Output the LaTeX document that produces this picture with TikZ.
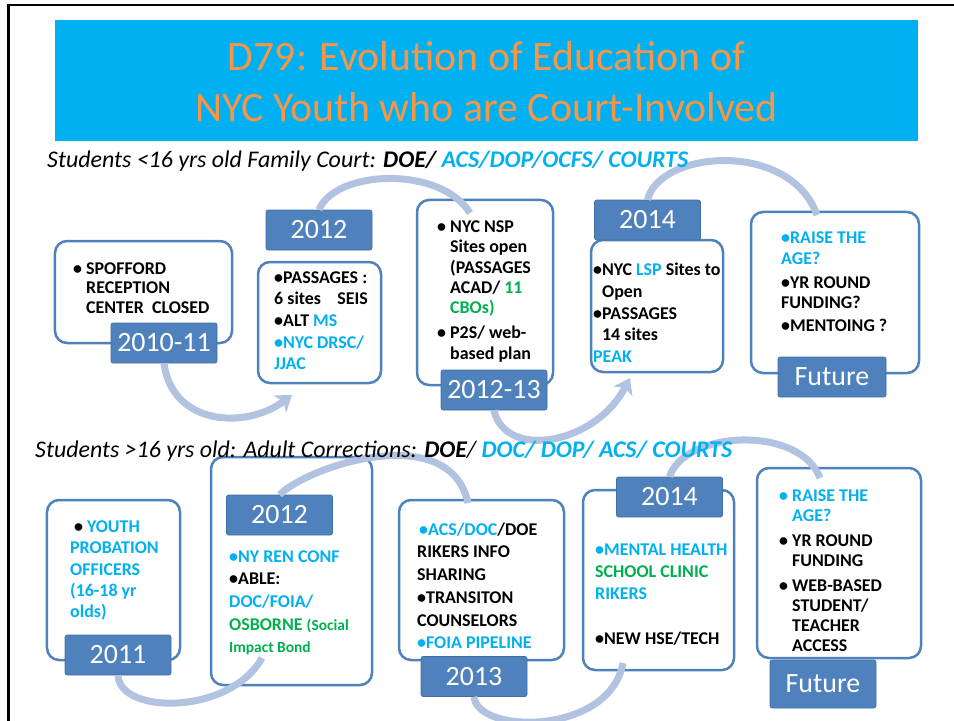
\documentclass[tikz,border=0pt]{standalone}
\usepackage{fontspec}
\setmainfont{Carlito}
\usetikzlibrary{arrows.meta}

\definecolor{boxblue}{RGB}{79,129,189}
\definecolor{arcblue}{RGB}{178,194,225}
\definecolor{titlecyan}{RGB}{0,176,240}
\definecolor{txtcyan}{RGB}{0,176,240}
\definecolor{txtgreen}{RGB}{0,176,80}
\definecolor{titleorange}{RGB}{247,150,70}

\tikzstyle{infobox} = [draw=boxblue, line width=2.5bp, fill=white, rounded corners=12bp, inner sep=0]
\tikzstyle{yearlabel} = [fill=boxblue, draw=boxblue!85!black, line width=0.6bp, rounded corners=2bp, text=white, font=\fontsize{28}{30}\selectfont, minimum width=106bp, minimum height=40bp, inner sep=0]
\tikzstyle{infotext} = [anchor=north west, align=left, inner sep=0]
\tikzstyle{subline} = [anchor=base west, inner sep=0, font=\itshape\fontsize{24}{26}\selectfont]
\tikzstyle{turn} = [draw=arcblue, line width=7bp]
\tikzstyle{turntip} = [-{Stealth[length=15bp,width=21bp,inset=4bp]}]

\newcommand{\cy}[1]{\textcolor{txtcyan}{#1}}
\newcommand{\gr}[1]{\textcolor{txtgreen}{#1}}
\newcommand{\hangbl}{\phantom{•\ }}
\newcommand{\boxfont}[1]{\bfseries\fontsize{18}{#1}\selectfont}
% first line strut: node top lies 15bp above the first baseline
\newcommand{\firstln}{\rule{0pt}{15bp}}

\begin{document}
\begin{tikzpicture}[x=1bp,y=-1bp]
	\useasboundingbox (0,0) rectangle (954,721);
	\draw[line width=2.5bp] (8.5,721) -- (8.5,5) -- (954,5);
	
	% title bar
	\node[fill=titlecyan, minimum width=863bp, minimum height=121bp, inner sep=0] (ttl) at (486.5,80.5) {};
	\node[anchor=north, align=center, inner sep=0, text=titleorange, font=\fontsize{42}{51.5}\selectfont] (ttltxt) at (486.5,30) {\rule{0pt}{40bp}D79: Evolution of Education of\\NYC Youth who are Court-Involved};
	
	% top row boxes
	\node[infobox, minimum width=177bp, minimum height=102bp] (b1) at (143.5,292) {};
	\node[infobox, minimum width=123bp, minimum height=121bp] (b2) at (319.5,322.5) {};
	\node[infobox, minimum width=136bp, minimum height=185bp] (b3) at (485,292.5) {};
	\node[infobox, minimum width=132bp, minimum height=132bp] (b4) at (657,306) {};
	\node[infobox, minimum width=168bp, minimum height=161bp] (b5) at (835,292.5) {};
	
	% bottom row boxes
	\node[infobox, minimum width=133bp, minimum height=160bp] (b6) at (113.5,580) {};
	\node[infobox, minimum width=161bp, minimum height=228bp] (b7) at (291.5,571) {};
	\node[infobox, minimum width=165bp, minimum height=160bp] (b8) at (481.5,580) {};
	\node[infobox, minimum width=151bp, minimum height=180bp] (b9) at (658.5,580) {};
	\node[infobox, minimum width=164bp, minimum height=190bp] (b10) at (839,563) {};
	
	% year labels
	\node[yearlabel] (y1) at (164,343) {2010-11};
	\node[yearlabel] (y2) at (319,230) {2012};
	\node[yearlabel] (y3) at (494,390) {2012-13};
	\node[yearlabel] (y4) at (647.5,220) {2014};
	\node[yearlabel, minimum width=108bp] (y5) at (832,377) {Future};
	\node[yearlabel] (y6) at (118,655) {2011};
	\node[yearlabel] (y7) at (279.5,515) {2012};
	\node[yearlabel] (y8) at (474,676.5) {2013};
	\node[yearlabel] (y9) at (669.5,497) {2014};
	\node[yearlabel, minimum height=48bp] (y10) at (823,684) {Future};
	
	% curved arrows
	\coordinate (e1) at (292,395);
	\coordinate (e2) at (470,213);
	\coordinate (e3) at (630,378);
	\coordinate (e4) at (817,215);
	\coordinate (e6) at (262,658);
	\coordinate (e7) at (468,503);
	\coordinate (e8) at (623,663);
	\coordinate (e9) at (820,478);
	\draw[turn, turntip] (y1.south) .. controls (172,425) and (245,430) .. (e1);
	\draw[turn] (y2.north) .. controls (335,170) and (440,165) .. (e2);
	\draw[turn, turntip] (y3.south) .. controls (505,460) and (595,445) .. (e3);
	\draw[turn] (y4.north) .. controls (660,150) and (790,140) .. (e4);
	\draw[turn] (y6.south) .. controls (120,715) and (230,715) .. (e6);
	\draw[turn] (y7.north) .. controls (310,465) and (450,420) .. (e7);
	\draw[turn] (y8.south) .. controls (478,735) and (610,735) .. (e8);
	\draw[turn] (y9.north) .. controls (685,430) and (800,425) .. (e9);
	
	% headings of the two rows
	\node[subline] (s1) at (47,168) {Students <16 yrs old Family Court: \textbf{DOE/} \cy{\textbf{ACS/DOP/OCFS/ COURTS}}};
	\node[subline] (s2) at (35,457) {Students >16 yrs old: Adult Corrections: \textbf{DOE}/ \cy{\textbf{DOC/ DOP/ ACS/ COURTS}}};
	
	% texts, top row
	\node[infotext, font=\boxfont{19.5}] (t1) at (73,259) {\firstln• SPOFFORD\\\hangbl RECEPTION\\\hangbl CENTER\ \ CLOSED};
	\node[infotext, font=\boxfont{21.7}] (t2) at (274,268) {\firstln•PASSAGES :\\6 sites\ \ \ \ SEIS\\•ALT \cy{MS}\\\cy{•NYC DRSC/}\\\cy{JJAC}};
	\node[infotext, font=\boxfont{20.5}] (t3) at (437,217) {\firstln• NYC NSP\\\hangbl Sites open\\\hangbl (PASSAGES\\\hangbl ACAD/ \gr{11}\\\hangbl\gr{CBOs)}\\[4.5bp]• P2S/ web-\\\hangbl based plan};
	\node[infotext, font=\boxfont{22}] (t4) at (593,260) {\firstln•NYC \cy{LSP} Sites to\\\phantom{•}Open\\•PASSAGES\\\phantom{•}14 sites\\\cy{PEAK}};
	\node[infotext, font=\boxfont{21}] (t5) at (781,228) {\firstln\cy{•RAISE THE}\\\cy{AGE?}\\[3bp]•YR ROUND\\FUNDING?\\[2bp]•MENTOING ?};
	
	% texts, bottom row
	\node[infotext, font=\boxfont{21.5}] (t6) at (70,517) {\firstln\hspace*{4bp}• \cy{YOUTH}\\\cy{PROBATION}\\\cy{OFFICERS}\\\cy{(16-18 yr}\\\cy{olds)}};
	\node[infotext, font=\boxfont{22.7}] (t7) at (229,547) {\firstln\cy{•NY REN CONF}\\•ABLE:\\\cy{DOC/FOIA/}\\\gr{OSBORNE {\fontsize{15.5}{18}\selectfont(Social}}\\\gr{\fontsize{15.5}{18}\selectfont Impact Bond}};
	\node[infotext, font=\boxfont{22.8}] (t8) at (417,520) {\firstln\hspace*{2bp}\cy{•ACS/DOC}/DOE\\RIKERS INFO\\SHARING\\•TRANSITON\\COUNSELORS\\\cy{•FOIA PIPELINE}};
	\node[infotext, font=\boxfont{22.3}] (t9) at (595,540) {\firstln\cy{•MENTAL HEALTH}\\\gr{SCHOOL CLINIC}\\\cy{RIKERS}\\[22.3bp]•NEW HSE/TECH};
	\node[infotext, font=\boxfont{20.3}] (t10) at (779,486) {\firstln\cy{• RAISE THE}\\\hangbl\cy{AGE?}\\[4.5bp]• YR ROUND\\\hangbl FUNDING\\[4.5bp]• WEB-BASED\\\hangbl STUDENT/\\\hangbl TEACHER\\\hangbl ACCESS};
\end{tikzpicture}
\end{document}
